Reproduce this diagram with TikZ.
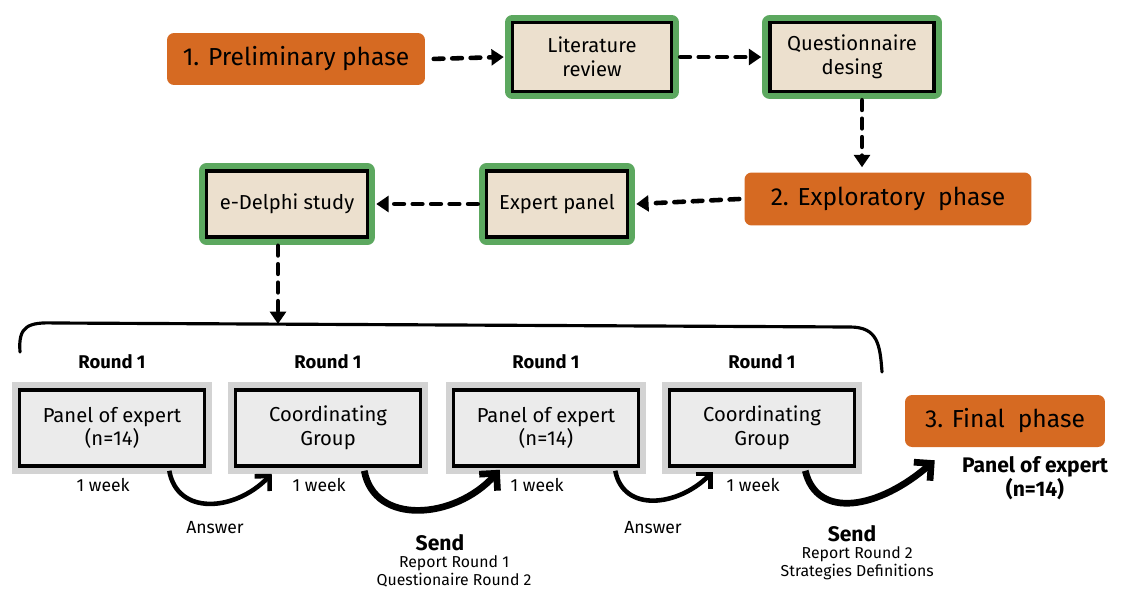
\documentclass[tikz,border=0pt]{standalone}
\usepackage{fontspec}
\setmainfont{Fira Sans}
\usetikzlibrary{arrows.meta,positioning,calc}
\definecolor{phaseorange}{HTML}{D66A22}
\definecolor{framegreen}{HTML}{5CA85F}
\definecolor{boxbeige}{HTML}{ECE0CE}
\definecolor{boxgray}{HTML}{EBEBEB}
\definecolor{shadegray}{HTML}{D3D3D3}

\begin{document}
\begin{tikzpicture}[x=0.02cm,y=-0.02cm,
    phase/.style={fill=phaseorange, rounded corners=4pt, inner sep=0pt, outer sep=3pt,
      font=\fontsize{14}{16}\selectfont},
    greenbox/.style={preaction={draw=framegreen, line width=9pt, line join=round},
      fill=boxbeige, draw=black, line width=2pt, align=center, inner sep=0pt, outer sep=5pt,
      font=\fontsize{11.5}{13.5}\selectfont},
    graybox/.style={preaction={draw=shadegray, line width=9pt},
      fill=boxgray, draw=black, line width=2pt, align=center, inner sep=0pt, outer sep=5pt,
      minimum width=3.7cm, minimum height=1.52cm, font=\fontsize{11.5}{13.5}\selectfont},
    roundlbl/.style={font=\fontsize{10.5}{12}\selectfont\bfseries, inner sep=1pt},
    weeklbl/.style={font=\fontsize{10}{12}\selectfont, inner sep=1pt},
    smalllbl/.style={font=\fontsize{9}{10.5}\selectfont, align=center, inner sep=1pt},
    dasharrow/.style={line width=2.6pt, dash pattern=on 5.5pt off 5pt, line cap=round,
      -{Triangle[length=7pt,width=9pt]}},
    answerarrow/.style={line width=2.6pt, -{Straight Barb[length=6pt,width=12pt]}},
    sendarrow/.style={line width=3.8pt, -{Straight Barb[length=7pt,width=14pt]}}
  ]
  \useasboundingbox (0,0) rectangle (1129,592);

  % phases and steps
  \node[phase, minimum width=5.16cm, minimum height=1.04cm] (prelim) at (296,59) {1. Preliminary phase};
  \node[greenbox, minimum width=3.18cm, minimum height=1.38cm] (litrev) at (592,57) {Literature\\review};
  \node[greenbox, minimum width=3.28cm, minimum height=1.38cm] (qdesign) at (852,57) {Questionnaire\\desing};
  \node[phase, minimum width=5.74cm, minimum height=1.06cm] (explor) at (888,199) {2. Exploratory\ \ phase};
  \node[greenbox, minimum width=2.82cm, minimum height=1.32cm] (exppanel) at (557,204) {Expert panel};
  \node[greenbox, minimum width=3.22cm, minimum height=1.32cm] (edelphi) at (287,204) {e-Delphi study};

  \coordinate (qdown) at ($(qdesign.south)+(10,0)$);
  \coordinate (edown) at ($(edelphi.south)+(-9,0)$);

  \draw[dasharrow, shorten <=2pt] (prelim.east) -- (litrev.west);
  \draw[dasharrow] (litrev.east) -- (qdesign.west);
  \draw[dasharrow] (qdown) -- (qdown |- explor.north);
  \draw[dasharrow] (explor.west) -- (exppanel.east);
  \draw[dasharrow] (exppanel.west) -- (edelphi.east);

  % rounds
  \coordinate (braceL) at (20,352);
  \coordinate (braceTop) at (278,324);
  \coordinate (braceR) at (882,372);
  \draw[line width=1.8pt, line cap=round] (braceL) .. controls (18,326) and (28,322) .. (55,323)
    -- (850,327) .. controls (878,327) and (880,345) .. (braceR);
  \draw[dasharrow] (edown) -- (edown |- braceTop);

  \node[graybox] (panel1) at (112,428) {Panel of expert\\(n=14)};
  \node[graybox] (coord1) at (328,428) {Coordinating\\Group};
  \node[graybox] (panel2) at (546,428) {Panel of expert\\(n=14)};
  \node[graybox] (coord2) at (762,428) {Coordinating\\Group};

  \foreach \b in {panel1,coord1,panel2,coord2}{
    \node[roundlbl, above=6pt of \b] (round-\b) {Round 1};
    \node[weeklbl, below=1pt of \b, xshift=-5pt] (week-\b) {1 week};
  }

  \node[phase, minimum width=4.0cm, minimum height=1.04cm] (final) at (1005,421) {3. Final\ \ phase};
  \node[font=\fontsize{12}{12.5}\selectfont\bfseries, align=center, inner sep=1pt] (finpanel) at (1035,478) {Panel of expert\\(n=14)};

  % answers and sends
  \draw[answerarrow] ($(panel1.south east)+(-44,-4)$) .. controls +(8,45) and +(-37,38) .. ($(coord1.south west)+(45,-1)$);
  \draw[sendarrow] ($(coord1.south east)+(-65,-4)$) .. controls +(10,55) and +(-45,50) .. ($(panel2.south west)+(55,-5)$);
  \draw[answerarrow] ($(panel2.south east)+(-32,-4)$) .. controls +(8,42) and +(-35,35) .. ($(coord2.south west)+(52,-3)$);
  \draw[sendarrow] ($(coord2.south east)+(-58,-4)$) .. controls +(12,50) and +(-55,48) .. ($(final.south west)+(35,8)$);

  \node[weeklbl] (answer1) at (215,528) {Answer};
  \node[weeklbl] (answer2) at (653,528) {Answer};
  \node[roundlbl, font=\fontsize{12}{14}\selectfont\bfseries] (send1) at (440,543) {Send};
  \node[smalllbl, below=0pt of send1.south, xshift=8pt] (report1) {Report Round 1\\Questionaire Round 2};
  \node[roundlbl, font=\fontsize{12}{14}\selectfont\bfseries] (send2) at (852,534) {Send};
  \node[smalllbl, below=0pt of send2.south, xshift=3pt] (report2) {Report Round 2\\Strategies Definitions};
\end{tikzpicture}
\end{document}
